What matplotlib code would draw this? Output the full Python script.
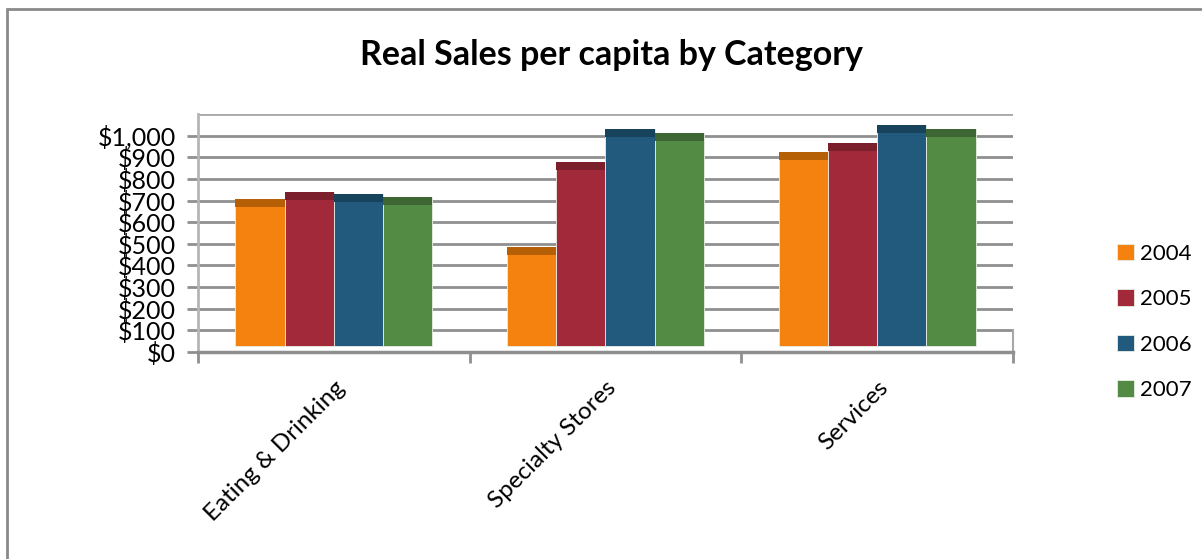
import matplotlib.pyplot as plt
from matplotlib.patches import Rectangle
from matplotlib.ticker import FuncFormatter

plt.rcParams['font.family'] = ['Lato', 'DejaVu Sans']

categories = ['Eating & Drinking', 'Specialty Stores', 'Services']
years = ['2004', '2005', '2006', '2007']
sales_2004 = [708, 485, 924]
sales_2005 = [738, 876, 966]
sales_2006 = [729, 1029, 1050]
sales_2007 = [717, 1012, 1032]
series = [sales_2004, sales_2005, sales_2006, sales_2007]

colores = ['#F5820F', '#A2293A', '#215A7C', '#538B45']
tapas = ['#B55F06', '#7A1F2B', '#17435C', '#3D6634']

ancho = 0.1815
base = 30     # las columnas flotan un poco sobre el suelo
tapa = 37     # cara superior mas oscura (efecto 3D)
gris = '#8f8f8f'

fig = plt.figure(figsize=(12.02, 5.59), dpi=100)
ax = fig.add_axes([198 / 1202, 1 - 352 / 559, (1013 - 198) / 1202, (352 - 114) / 559])

# marco del grafico
fig.patches.append(Rectangle((7 / 1202, -0.1), 1.2, (559 - 9) / 559 + 0.1,
                             transform=fig.transFigure, fill=False,
                             edgecolor='#8a8a8a', linewidth=2))

x = list(range(len(categories)))
for i, (vals, c, ct) in enumerate(zip(series, colores, tapas)):
    pos = [xi + (i - 1.5) * ancho for xi in x]
    ax.bar(pos, [v - base for v in vals], width=ancho, bottom=base, color=c,
           edgecolor='#e8eee6', linewidth=0.6, label=years[i], zorder=3)
    ax.bar(pos, [tapa] * len(vals), width=ancho, bottom=[v - tapa for v in vals],
           color=ct, linewidth=0, zorder=4)

ax.set_xlim(-0.5, 2.5)
ax.set_ylim(0, 1100)
ax.set_yticks(range(0, 1001, 100))
ax.yaxis.set_major_formatter(FuncFormatter(lambda v, p: '${:,.0f}'.format(v)))
ax.grid(axis='y', color=gris, linewidth=2, zorder=0)
ax.axhline(1100, color='#a8a8a8', linewidth=2, zorder=0)
ax.set_axisbelow(True)

ax.set_xticks(x)
ax.set_xticklabels(categories, rotation=45, ha='right', rotation_mode='anchor',
                   fontsize=17.5)
ax.set_xticks([-0.5, 0.5, 1.5, 2.5], minor=True)
ax.tick_params(axis='x', which='major', length=0, pad=18)
ax.tick_params(axis='x', which='minor', length=8, width=2, color=gris)
ax.tick_params(axis='y', length=8, width=2, color=gris, labelsize=18, pad=8)

for s in ['top', 'right']:
    ax.spines[s].set_visible(False)
ax.spines['left'].set_color('#b5b5b5')
ax.spines['left'].set_linewidth(2)
ax.spines['bottom'].set_color(gris)
ax.spines['bottom'].set_linewidth(2.5)
ax.plot([2.5, 2.5], [0, 100], color='#a8a8a8', linewidth=1.5, clip_on=False)

fig.text(611 / 1202, 1 - 55 / 559, 'Real Sales per capita by Category',
         ha='center', va='center', fontsize=24.5, fontweight='bold')

handles, labels = ax.get_legend_handles_labels()
fig.legend(handles, labels, loc='center left', bbox_to_anchor=(1097 / 1202, 1 - 322 / 559),
           frameon=False, fontsize=16, handlelength=0.75, handleheight=0.75,
           handletextpad=0.3, labelspacing=1.15)

plt.savefig('out.png', dpi=100)
